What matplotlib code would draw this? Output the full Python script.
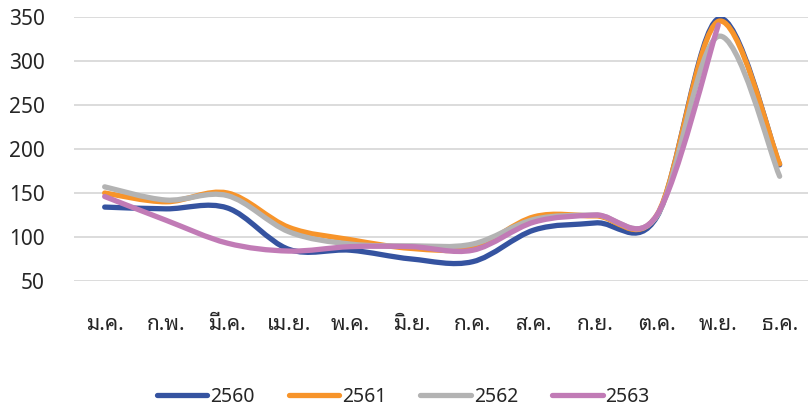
import numpy as np
import matplotlib
matplotlib.use('Agg')
import matplotlib.pyplot as plt
from matplotlib.path import Path
from matplotlib.patches import PathPatch
from matplotlib.lines import Line2D

months = ['ม.ค.', 'ก.พ.', 'มี.ค.', 'เม.ย.', 'พ.ค.', 'มิ.ย.',
          'ก.ค.', 'ส.ค.', 'ก.ย.', 'ต.ค.', 'พ.ย.', 'ธ.ค.']
y2560 = [134, 132, 133, 86, 85, 75, 72, 108, 116, 123, 348, 182]
y2561 = [150, 140, 150, 111, 97, 87, 88, 123, 124, 125, 345, 183]
y2562 = [157, 142, 147, 106, 92, 90, 92, 120, 125, 124, 328, 169]
y2563 = [146, 119, 93, 84, 89, 89, 85, 117, 125, 125, 341, np.nan]
years = ['2560', '2561', '2562', '2563']
colors = ['#3553A0', '#F7942A', '#B3B3B3', '#C17BB6']

num_font = ['Noto Sans', 'Noto Sans Thai Looped']
thai_font = ['Noto Sans Thai Looped', 'Noto Sans']


def smooth_path(xs, ys):
    # Excel style smoothed line: cubic bezier with catmull-rom control points
    xs = np.asarray(xs, float)
    ys = np.asarray(ys, float)
    ok = ~np.isnan(ys)
    xs, ys = xs[ok], ys[ok]
    p = np.column_stack([xs, ys])
    n = len(p)
    verts = [p[0]]
    codes = [Path.MOVETO]
    for i in range(n - 1):
        p0 = p[i - 1] if i > 0 else p[i]
        p3 = p[i + 2] if i + 2 < n else p[i + 1]
        c1 = p[i] + (p[i + 1] - p0) / 6.0
        c2 = p[i + 1] - (p3 - p[i]) / 6.0
        verts += [c1, c2, p[i + 1]]
        codes += [Path.CURVE4] * 3
    return Path(verts, codes)


W, H = 808, 413
fig = plt.figure(figsize=(W / 100, H / 100), dpi=100)
left, right = 74, 808
top, bottom = 17, 281
ax = fig.add_axes([left / W, 1 - bottom / H, (right - left) / W, (bottom - top) / H])

x = np.arange(len(months))
step = 61.36
ax.set_xlim(-0.5, -0.5 + (right - left) / step)
ax.set_ylim(50, 350)

for vals, c in zip([y2560, y2561, y2562, y2563], colors):
    ax.add_patch(PathPatch(smooth_path(x, vals), fill=False, edgecolor=c,
                           lw=3.8, capstyle='round', joinstyle='round', zorder=3))

ax.set_yticks([50, 100, 150, 200, 250, 300, 350])
ax.yaxis.grid(True, color='#D9D9D9', lw=1.3)
ax.set_axisbelow(True)
ax.set_xticks(x)
ax.set_xticklabels(months, family=thai_font, fontsize=15, fontweight=500,
                   color='#262626')
for lab in ax.get_yticklabels():
    lab.set_family(num_font)
    lab.set_fontsize(15)
    lab.set_color('#262626')
ax.tick_params(axis='both', length=0)
ax.tick_params(axis='y', pad=21)
ax.tick_params(axis='x', pad=24)
for s in ax.spines.values():
    s.set_visible(False)

handles = [Line2D([], [], color=c, lw=3.8, solid_capstyle='round') for c in colors]
fig.legend(handles, years, loc='center', bbox_to_anchor=(0.499, 1 - 397 / H),
           ncol=4, frameon=False, handlelength=2.6, handletextpad=0.15,
           columnspacing=1.75, prop={'family': num_font, 'size': 14},
           labelcolor='#262626')

fig.savefig('out.png', dpi=100)
